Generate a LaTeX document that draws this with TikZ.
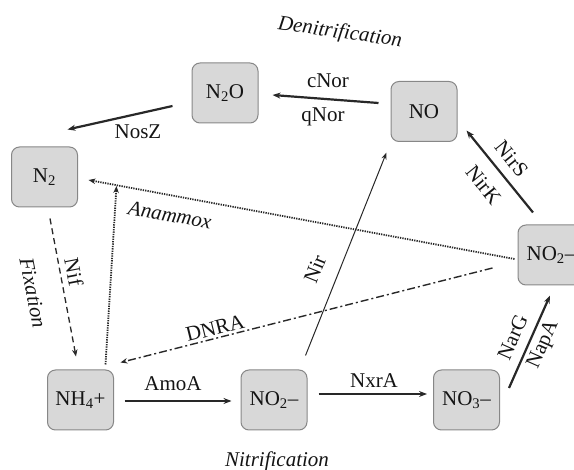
\documentclass[tikz,border=0pt]{standalone}
\usepackage{fontspec}
\setmainfont{Liberation Serif}[Ligatures=TeX]
\usetikzlibrary{arrows.meta,calc}
\definecolor{boxfill}{RGB}{216,216,216}
\definecolor{boxline}{RGB}{135,135,135}
\definecolor{arrcol}{RGB}{40,40,40}
\definecolor{txtcol}{RGB}{20,20,20}
\begin{document}
\begin{tikzpicture}[x=1pt,y=-1pt,
  font=\fontsize{21}{25}\selectfont, text=txtcol,
  species/.style={draw=boxline, line width=1pt, fill=boxfill, rounded corners=8pt,
    minimum width=66pt, minimum height=60pt, inner sep=0pt},
  arr/.style={draw=arrcol, line width=2.2pt, -{Stealth[length=8pt,width=6pt]}},
  thinarr/.style={arr, line width=1pt, -{Stealth[length=7pt,width=5pt]}},
  anam/.style={arr, line width=1.8pt, dash pattern=on 1.3pt off 1.1pt, -{Stealth[length=7pt,width=5.5pt]}},
  fix/.style={arr, line width=1.3pt, dash pattern=on 6pt off 4pt, -{Stealth[length=7pt,width=5.5pt]}},
  dnra/.style={arr, line width=1.4pt, dash pattern=on 8pt off 3pt on 2pt off 3pt, -{Stealth[length=7pt,width=5.5pt]}},
  lbl/.style={inner sep=0pt},
  proc/.style={inner sep=0pt, font=\fontsize{21}{25}\selectfont\itshape}]
\clip (0,0) rectangle (574,470);
% species
\node[species] (N2O) at (225,93) {N\textsubscript{2}O};
\node[species] (NO) at (424,111.5) {NO};
\node[species] (N2) at (44.5,177) {N\textsubscript{2}};
\node[species] (NO2r) at (551,255) {NO\textsubscript{2}–};
\node[species] (NH4) at (80.5,400) {NH\textsubscript{4}+};
\node[species] (NO2m) at (274,400) {NO\textsubscript{2}–};
\node[species] (NO3) at (466.5,400) {NO\textsubscript{3}–};
% denitrification
\draw[arr] ([shift={(-19,13)}]N2O.west) -- ([shift={(-10.5,-17)}]N2.north east);
\draw[arr] ([shift={(-12,-8.5)}]NO.west) -- ([shift={(14,2)}]N2O.east);
\draw[arr] ([shift={(-18,-12)}]NO2r.north) -- ([shift={(9,-11.5)}]NO.south east);
\draw[thinarr] ([shift={(-2,-14)}]NO2m.north east) -- ([shift={(-4,10.5)}]NO.south west);
% anammox
\draw[anam] ([shift={(-3,4)}]NO2r.west) -- ([shift={(10.5,3)}]N2.east);
\coordinate (anamtip) at ([shift={(38.5,9)}]N2.east);
\draw[anam] ([shift={(-8.5,-5)}]NH4.north east) -- (anamtip);
% DNRA
\draw[dnra] ([shift={(-25,13)}]NO2r.west) -- ([shift={(6.5,-7)}]NH4.north east);
% fixation
\draw[fix] ([shift={(5.5,11)}]N2.south) -- ([shift={(-4.5,-13)}]NH4.north);
% nitrification
\draw[arr] ([shift={(10.5,1)}]NH4.east) -- ([shift={(-9,1)}]NO2m.west);
\draw[arr] ([shift={(11,-6)}]NO2m.east) -- ([shift={(-6,-6)}]NO3.west);
\draw[arr] ([shift={(9,-12)}]NO3.east) -- ([shift={(-1,10)}]NO2r.south);
% labels
\node[lbl] (lNosZ) at (138,132) {NosZ};
\node[lbl] (lcNor) at (328,81) {cNor};
\node[lbl] (lqNor) at (323,117) {qNor};
\node[lbl, rotate=-51] (lNirS) at (511.5,159) {NirS};
\node[lbl, rotate=-51] (lNirK) at (483.5,185) {NirK};
\node[lbl, rotate=68] (lNir) at (315,269) {Nir};
\node[lbl, rotate=66] (lNarG) at (512.5,337) {NarG};
\node[lbl, rotate=66] (lNapA) at (543.5,345) {NapA};
\node[lbl, rotate=-79] (lNif) at (74,272) {Nif};
\node[proc, rotate=-79] (lFix) at (33,293) {Fixation};
\node[proc, rotate=-10] (lAnam) at (170,215) {Anammox};
\node[lbl, rotate=14] (lDNRA) at (215,328) {DNRA};
\node[lbl] (lAmoA) at (173,384) {AmoA};
\node[lbl] (lNxrA) at (374,381) {NxrA};
\node[proc, rotate=-8] (lDenit) at (340,33) {Denitrification};
\node[proc] (lNitr) at (277,461) {Nitrification};
\end{tikzpicture}
\end{document}
